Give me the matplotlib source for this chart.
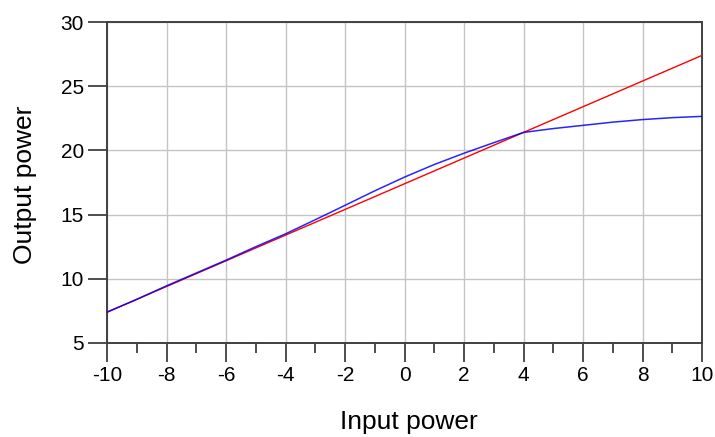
import matplotlib
matplotlib.use("Agg")
import matplotlib.pyplot as plt

plt.rcParams['font.family'] = ['Liberation Sans', 'DejaVu Sans']
plt.rcParams['axes.unicode_minus'] = False

# input power (dBm) and the two curves
x_in = [-10, -9, -8, -7, -6, -5, -4, -3, -2, -1, 0, 1, 2, 3, 4, 5, 6, 7, 8, 9, 10]
linear_out = [7.4, 8.4, 9.4, 10.4, 11.4, 12.4, 13.4, 14.4, 15.4, 16.4, 17.4,
              18.4, 19.4, 20.4, 21.4, 22.4, 23.4, 24.4, 25.4, 26.4, 27.4]
actual_out = [7.4, 8.4, 9.45, 10.45, 11.45, 12.5, 13.5, 14.6, 15.72, 16.85, 17.92,
              18.9, 19.78, 20.6, 21.4, 21.7, 21.95, 22.2, 22.4, 22.55, 22.65]

x_ticks = [-10, -8, -6, -4, -2, 0, 2, 4, 6, 8, 10]
x_minor = [-9, -7, -5, -3, -1, 1, 3, 5, 7, 9]
y_ticks = [5, 10, 15, 20, 25, 30]

fig = plt.figure(figsize=(7.15, 4.37), dpi=100)
ax = fig.add_axes([107 / 715, 94 / 437, 595 / 715, 321 / 437])

ax.plot(x_in, linear_out, color='#ff0000', lw=1.0, zorder=3)
ax.plot(x_in, actual_out, color='#0000ff', lw=1.1, alpha=0.85, zorder=4)

ax.set_xlim(-10, 10)
ax.set_ylim(5, 30)
ax.set_xticks(x_ticks)
ax.set_xticks(x_minor, minor=True)
ax.set_yticks(y_ticks)
ax.grid(True, which='major', color='#c4c4c4', lw=1.0)
ax.set_axisbelow(True)

for sp in ax.spines.values():
    sp.set_color('#404040')
    sp.set_linewidth(1.4)

ax.tick_params(which='major', direction='out', length=13.5, width=1.2,
               color='#303030', labelsize=15, pad=3)
ax.tick_params(axis='x', which='minor', direction='out', length=7, width=1.2,
               color='#303030')

fig.text(409 / 715, 1 - 422 / 437, 'Input power', fontsize=19,
         ha='center', va='center')
fig.text(25 / 715, 1 - 185 / 437, 'Output power', fontsize=19,
         ha='center', va='center', rotation=90)

fig.savefig('out.png', dpi=100)
